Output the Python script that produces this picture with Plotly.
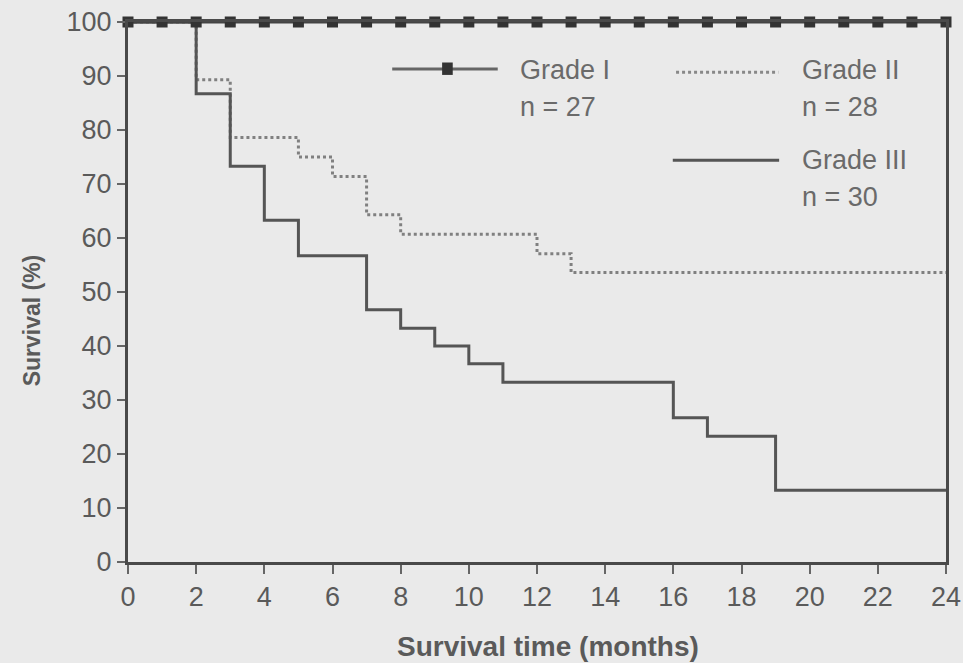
import plotly.graph_objects as go

# ---- data ----
grade1_months = [0, 1, 2, 3, 4, 5, 6, 7, 8, 9, 10, 11, 12, 13, 14, 15, 16, 17, 18, 19, 20, 21, 22, 23, 24]
grade1_survival = [100, 100, 100, 100, 100, 100, 100, 100, 100, 100, 100, 100, 100,
                   100, 100, 100, 100, 100, 100, 100, 100, 100, 100, 100, 100]

grade2_months = [0, 2, 3, 5, 6, 7, 8, 12, 13, 24]
grade2_survival = [100, 89.3, 78.6, 75.0, 71.4, 64.3, 60.7, 57.1, 53.6, 53.6]

grade3_months = [0, 2, 3, 4, 5, 7, 8, 9, 10, 11, 16, 17, 19, 24]
grade3_survival = [100, 86.7, 73.3, 63.3, 56.7, 46.7, 43.3, 40.0, 36.7, 33.3, 26.7, 23.3, 13.3, 13.3]

x_ticks = [0, 2, 4, 6, 8, 10, 12, 14, 16, 18, 20, 22, 24]
y_ticks = [0, 10, 20, 30, 40, 50, 60, 70, 80, 90, 100]

legend_names = ["Grade I", "Grade II", "Grade III"]
legend_counts = ["n = 27", "n = 28", "n = 30"]

BG = "#eaeaea"
INK = "#4a4a4a"
TXT = "#5a5a5a"
FONT = "Liberation Sans, Arial, sans-serif"

fig = go.Figure()

fig.add_trace(go.Scatter(
    x=grade2_months, y=grade2_survival, mode="lines", line_shape="hv",
    line=dict(color="#808080", width=3, dash="dot"), name="Grade II",
    showlegend=False, cliponaxis=False))

fig.add_trace(go.Scatter(
    x=grade3_months, y=grade3_survival, mode="lines", line_shape="hv",
    line=dict(color="#555555", width=3), name="Grade III",
    showlegend=False, cliponaxis=False))

fig.add_trace(go.Scatter(
    x=grade1_months, y=grade1_survival, mode="lines+markers",
    line=dict(color="#444444", width=3),
    marker=dict(symbol="square", size=11, color="#333333"),
    name="Grade I", showlegend=False, cliponaxis=False))

# ---- custom legend (paper coordinates) ----
shapes = [
    dict(type="line", xref="paper", yref="paper", x0=0.323, x1=0.452, y0=0.913, y1=0.913,
         line=dict(color="#666666", width=3)),
    dict(type="rect", xref="paper", yref="paper", x0=0.384, x1=0.397, y0=0.902, y1=0.925,
         fillcolor="#333333", line=dict(width=0)),
    dict(type="line", xref="paper", yref="paper", x0=0.670, x1=0.795, y0=0.907, y1=0.907,
         line=dict(color="#888888", width=3, dash="dot")),
    dict(type="line", xref="paper", yref="paper", x0=0.666, x1=0.796, y0=0.744, y1=0.744,
         line=dict(color="#555555", width=3)),
]

ann = []
leg_pos = [(0.477, 0.911, 0.842), (0.822, 0.911, 0.842), (0.822, 0.744, 0.676)]
for name, cnt, (lx, ly1, ly2) in zip(legend_names, legend_counts, leg_pos):
    ann.append(dict(x=lx, y=ly1, xref="paper", yref="paper", text=name, showarrow=False,
                    xanchor="left", yanchor="middle", font=dict(size=27, color="#6a6a6a", family=FONT)))
    ann.append(dict(x=lx, y=ly2, xref="paper", yref="paper", text=cnt, showarrow=False,
                    xanchor="left", yanchor="middle", font=dict(size=27, color="#6a6a6a", family=FONT)))

ann.append(dict(x=0.513, y=-0.157, xref="paper", yref="paper", text="<b>Survival time (months)</b>",
                showarrow=False, xanchor="center", yanchor="middle",
                font=dict(size=28, color=TXT, family=FONT)))
ann.append(dict(x=-0.117, y=0.448, xref="paper", yref="paper", text="<b>Survival (%)</b>",
                showarrow=False, xanchor="center", yanchor="middle", textangle=-90,
                font=dict(size=23, color=TXT, family=FONT)))

fig.update_layout(
    width=963, height=663,
    margin=dict(l=128, r=17, t=22, b=101, autoexpand=False),
    paper_bgcolor=BG, plot_bgcolor=BG,
    shapes=shapes, annotations=ann,
    font=dict(family=FONT, color=TXT, size=27),
)

fig.update_xaxes(
    range=[0, 24], tickvals=x_ticks, ticktext=[str(v) for v in x_ticks], automargin=False,
    showgrid=False, zeroline=False, showline=True, linecolor=INK, linewidth=3,
    mirror=True, ticks="outside", ticklen=9, tickwidth=2, tickcolor="#666666",
    tickfont=dict(size=27, color=TXT, family=FONT))
fig.update_yaxes(
    range=[0, 100], tickvals=y_ticks, ticktext=[str(v) for v in y_ticks], automargin=False,
    showgrid=False, zeroline=False, showline=True, linecolor=INK, linewidth=3,
    mirror=True, ticks="outside", ticklen=8, tickwidth=2, tickcolor="#666666",
    tickfont=dict(size=27, color=TXT, family=FONT))

fig.write_html("out.html", config={"displayModeBar": False},
               post_script="document.body.style.margin='0px';document.body.style.background='#eaeaea';")
